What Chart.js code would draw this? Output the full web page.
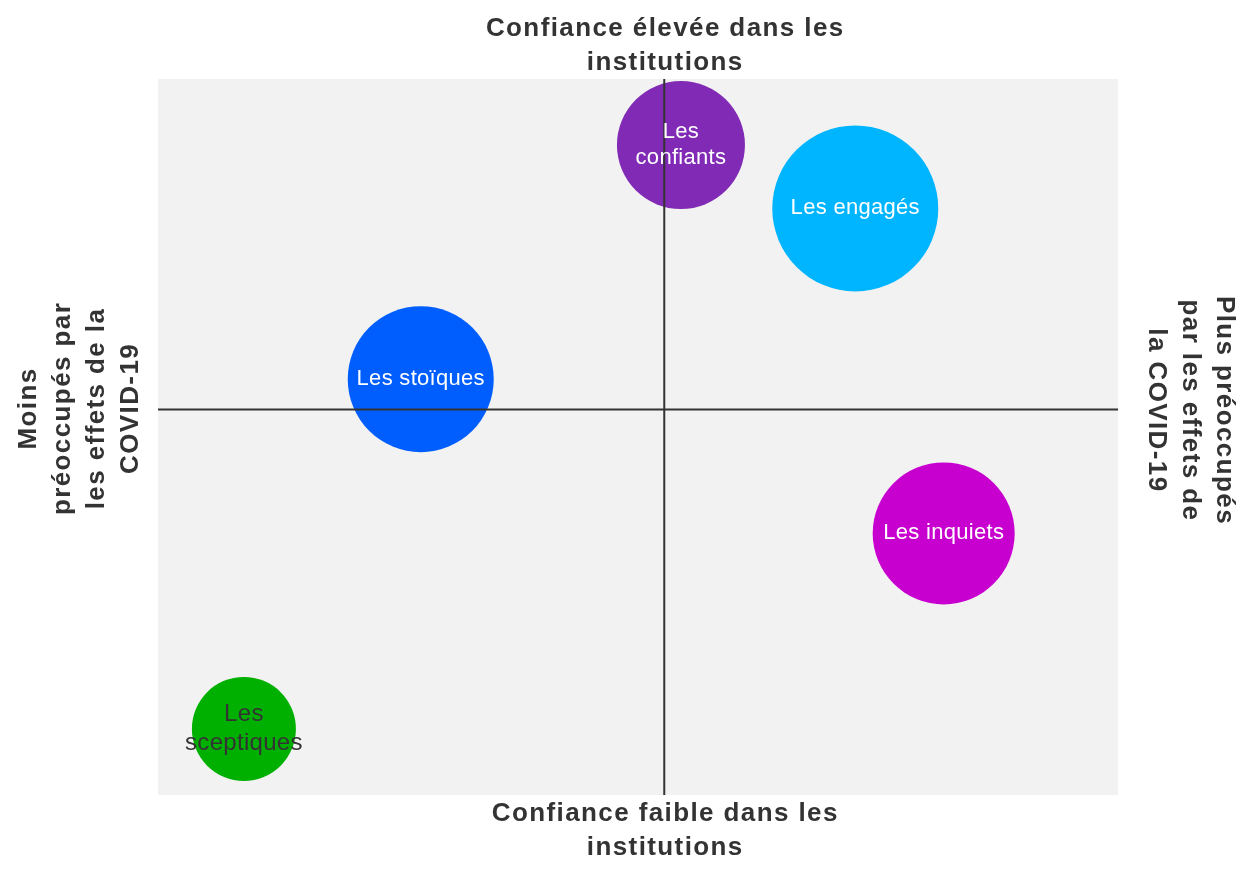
<!DOCTYPE html>
<html>
<head>
<meta charset="utf-8">
<script src="https://cdn.jsdelivr.net/npm/chart.js@4"></script>
<style>
  html, body { margin: 0; padding: 0; background: #fff; }
  #wrap { width: 1252px; height: 882px; }
</style>
</head>
<body>
<div id="wrap"><canvas id="segments"></canvas></div>
<script>
const segments = ['Les confiants', 'Les engagés', 'Les stoïques', 'Les inquiets', 'Les sceptiques'];
const preoccupation = [0.35, 3.8, -4.8, 5.55, -8.3];
const confiance = [4.8, 3.65, 0.55, -2.25, -5.8];
const taille = [64, 83, 73, 71, 52];
const couleurs = ['#812ab5', '#00b5ff', '#005eff', '#c800cf', '#00b000'];
const couleursTexte = ['#ffffff', '#ffffff', '#ffffff', '#ffffff', '#333333'];
const etiquettes = [['Les', 'confiants'], ['Les engagés'], ['Les stoïques'], ['Les inquiets'], ['Les', 'sceptiques']];

const titreHaut = ['Confiance élevée dans les', 'institutions'];
const titreBas = ['Confiance faible dans les', 'institutions'];
const titreGauche = ['Moins', 'préoccupés par', 'les effets de la', 'COVID-19'];
const titreDroite = ['Plus préoccupés', 'par les effets de', 'la COVID-19'];

const fondGris = {
  id: 'fondGris',
  beforeDraw(chart) {
    const a = chart.chartArea;
    const c = chart.ctx;
    c.save();
    c.fillStyle = '#f2f2f2';
    c.fillRect(a.left, a.top, a.right - a.left, a.bottom - a.top);
    c.restore();
  }
};

const quadrants = {
  id: 'quadrants',
  afterDatasetsDraw(chart) {
    const c = chart.ctx;
    const a = chart.chartArea;
    const x0 = chart.scales.x.getPixelForValue(0);
    const y0 = chart.scales.y.getPixelForValue(0);

    // axes croisés
    c.save();
    c.strokeStyle = '#333333';
    c.lineWidth = 2;
    c.beginPath();
    c.moveTo(x0 + 1, a.top);
    c.lineTo(x0 + 1, a.bottom);
    c.moveTo(a.left, y0);
    c.lineTo(a.right, y0);
    c.stroke();

    // noms des bulles (les sceptiques un peu plus grand)
    c.textAlign = 'center';
    c.textBaseline = 'middle';
    chart.getDatasetMeta(0).data.forEach((pt, i) => {
      const lignes = etiquettes[i];
      const grand = i === 4;
      c.font = (grand ? '24px' : '22px') + ' "Liberation Sans", Arial, sans-serif';
      c.letterSpacing = '0.3px';
      c.fillStyle = couleursTexte[i];
      const pas = grand ? 29 : 26;
      lignes.forEach((t, j) => {
        c.fillText(t, pt.x, pt.y + (j - (lignes.length - 1) / 2) * pas);
      });
    });

    // titres des quadrants
    c.font = 'bold 26px "Liberation Sans", Arial, sans-serif';
    c.letterSpacing = '1.4px';
    c.fillStyle = '#333333';
    const lh = 34;
    titreHaut.forEach((t, j) => c.fillText(t, x0 + 2, 29 + j * lh));
    titreBas.forEach((t, j) => c.fillText(t, x0 + 2, 814 + j * lh));

    c.save();
    c.translate(0, y0);
    c.rotate(-Math.PI / 2);
    titreGauche.forEach((t, j) => c.fillText(t, 1, 29 + j * lh));
    c.restore();

    c.save();
    c.translate(1252, y0);
    c.rotate(Math.PI / 2);
    titreDroite.forEach((t, j) => c.fillText(t, 1, 28 + j * lh));
    c.restore();
    c.restore();
  }
};

new Chart(document.getElementById('segments'), {
  type: 'bubble',
  data: {
    datasets: [{
      data: segments.map((s, i) => ({ x: preoccupation[i], y: confiance[i], r: taille[i] })),
      backgroundColor: couleurs,
      borderWidth: 0,
      hoverBorderWidth: 0
    }]
  },
  options: {
    responsive: true,
    maintainAspectRatio: false,
    animation: false,
    layout: { autoPadding: false, padding: { left: 158, right: 134, top: 79, bottom: 87 } },
    plugins: { legend: { display: false }, tooltip: { enabled: false } },
    scales: {
      x: { min: -10, max: 9, display: false },
      y: { min: -7, max: 6, display: false }
    }
  },
  plugins: [fondGris, quadrants]
});
</script>
</body>
</html>
